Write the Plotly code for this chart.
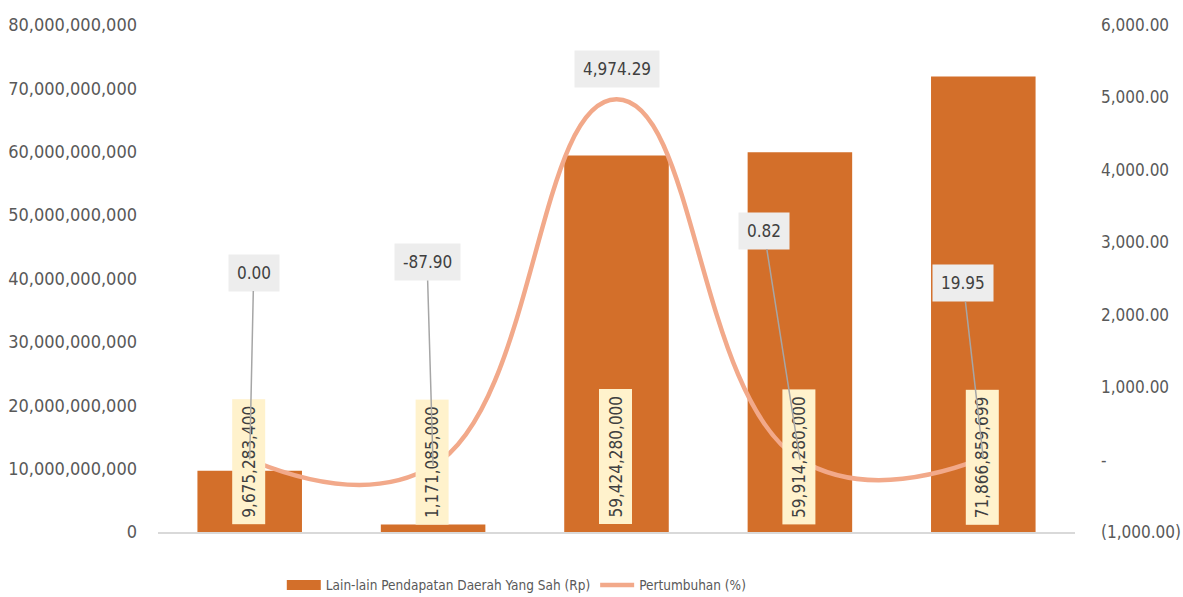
import plotly.graph_objects as go

categories = ["Tahun 1", "Tahun 2", "Tahun 3", "Tahun 4", "Tahun 5"]
pendapatan = [9675283400, 1171085000, 59424280000, 59914280000, 71866859699]
pertumbuhan = [0.00, -87.90, 4974.29, 0.82, 19.95]
bar_labels = ["9,675,283,400", "1,171,085,000", "59,424,280,000", "59,914,280,000", "71,866,859,699"]
growth_labels = ["0.00", "-87.90", "4,974.29", "0.82", "19.95"]
left_tickvals = [0, 10e9, 20e9, 30e9, 40e9, 50e9, 60e9, 70e9, 80e9]
left_ticktext = ["0", "10,000,000,000", "20,000,000,000", "30,000,000,000", "40,000,000,000",
                 "50,000,000,000", "60,000,000,000", "70,000,000,000", "80,000,000,000"]
right_tickvals = [-1000, 0, 1000, 2000, 3000, 4000, 5000, 6000]
right_ticktext = ["(1,000.00)", "-", "1,000.00", "2,000.00", "3,000.00", "4,000.00", "5,000.00", "6,000.00"]
label_offsets = [(4, -187), (-6, -204), (0, -30), (-36, -229), (-20, -175)]

FONT = "DejaVu Sans Condensed, Liberation Sans Narrow, sans-serif"
GREY = "#595959"
BAR = "#D36F2A"
LINE = "#F2A98A"
BAR_NAME = "Lain-lain Pendapatan Daerah Yang Sah (Rp)"

fig = go.Figure()
fig.add_trace(go.Bar(x=categories, y=pendapatan, name=BAR_NAME, showlegend=False,
                     marker=dict(color=BAR, line=dict(width=0)), width=0.57, yaxis="y"))
# legend entry with a wide rectangular swatch for the bar series
fig.add_trace(go.Scatter(x=[None], y=[None], name=BAR_NAME, mode="lines",
                         line=dict(color=BAR, width=11), yaxis="y", hoverinfo="skip"))
fig.add_trace(go.Scatter(x=categories, y=pertumbuhan, name="Pertumbuhan (%)", mode="lines",
                         line=dict(color=LINE, width=4.5, shape="spline", smoothing=1.3), yaxis="y2"))

annotations = []
for c, lbl in zip(categories, bar_labels):
    annotations.append(dict(x=c, y=0, xref="x", yref="y", text=lbl, showarrow=False,
                            textangle=-90, yanchor="bottom", xanchor="center", yshift=7, xshift=-1,
                            bgcolor="#FFF2CC", borderpad=6,
                            font=dict(family=FONT, size=17, color="#404040")))
for i, (c, v, lbl) in enumerate(zip(categories, pertumbuhan, growth_labels)):
    ax, ay = label_offsets[i]
    annotations.append(dict(x=c, y=v, xref="x", yref="y2", text=lbl, showarrow=True,
                            arrowhead=0, arrowwidth=1.5,
                            arrowcolor="rgba(0,0,0,0)" if i == 2 else "#A6A6A6",
                            ax=ax, ay=ay, bgcolor="#EDEDED", borderpad=8,
                            font=dict(family=FONT, size=17, color="#404040")))

fig.update_layout(
    width=1183, height=597,
    margin=dict(l=158, r=108, t=25, b=65, autoexpand=False),
    paper_bgcolor="white", plot_bgcolor="white",
    font=dict(family=FONT, size=18, color=GREY),
    showlegend=True,
    legend=dict(orientation="h", x=0.135, xanchor="left", y=-0.105, yanchor="middle",
                font=dict(family=FONT, size=13.5, color=GREY), traceorder="normal",
                itemwidth=34),
    xaxis=dict(type="category", showticklabels=False, showline=True, linecolor="#D9D9D9", linewidth=2,
               ticks="", showgrid=False, zeroline=False, automargin=False),
    yaxis=dict(range=[0, 80e9], tickvals=left_tickvals, ticktext=left_ticktext, showgrid=False,
               zeroline=False, showline=False, ticks="", ticklabelstandoff=20, automargin=False),
    yaxis2=dict(range=[-1000, 6000], tickvals=right_tickvals, ticktext=right_ticktext,
                overlaying="y", side="right", showgrid=False, zeroline=False, showline=False,
                ticks="", ticklabelstandoff=25, automargin=False,
                tickfont=dict(family=FONT, size=17, color=GREY)),
    annotations=annotations,
)

fig.write_html("out.html", config={"displayModeBar": False},
               post_script="document.body.style.margin='0';")
